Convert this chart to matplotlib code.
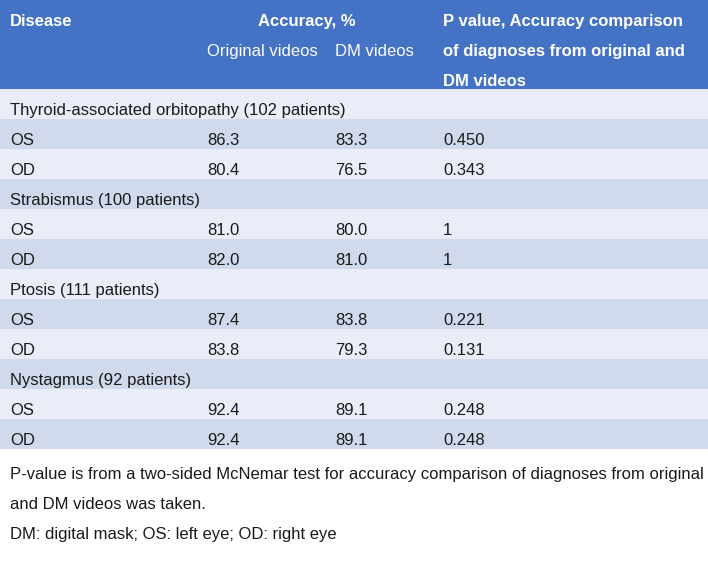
import matplotlib
matplotlib.use("Agg")
import matplotlib.pyplot as plt
from matplotlib.patches import Rectangle

plt.rcParams['font.family'] = ['Liberation Sans', 'DejaVu Sans']

# ---- data ----
diseases = ["Thyroid-associated orbitopathy (102 patients)",
            "Strabismus (100 patients)",
            "Ptosis (111 patients)",
            "Nystagmus (92 patients)"]
eyes = ["OS", "OD"]
original_acc = [["86.3", "80.4"], ["81.0", "82.0"], ["87.4", "83.8"], ["92.4", "92.4"]]
dm_acc = [["83.3", "76.5"], ["80.0", "81.0"], ["83.8", "79.3"], ["89.1", "89.1"]]
p_values = [["0.450", "0.343"], ["1", "1"], ["0.221", "0.131"], ["0.248", "0.248"]]

header_col0 = "Disease"
header_acc = "Accuracy, %"
header_sub = ["Original videos", "DM videos"]
header_p = ["P value, Accuracy comparison", "of diagnoses from original and", "DM videos"]
footnotes = ["P-value is from a two-sided McNemar test for accuracy comparison of diagnoses from original",
             "and DM videos was taken.",
             "DM: digital mask; OS: left eye; OD: right eye"]

# ---- layout ----
W, H = 708, 561
fig = plt.figure(figsize=(W / 100, H / 100), dpi=100)
ax = fig.add_axes([0, 0, 1, 1])
ax.set_xlim(0, W)
ax.set_ylim(H, 0)
ax.axis('off')

header_color = "#4472c4"
light = "#eaedf7"
dark = "#d0daec"
txt = "#1a1a1a"
fs = 12.0

x0, x1, x2, x3 = 10, 207, 335, 443
header_h = 89
row_h = 30

ax.add_patch(Rectangle((0, 0), W, header_h, color=header_color, lw=0))
ax.text(x0, 26, header_col0, color="white", fontsize=fs, fontweight="bold", va="baseline")
ax.text(306.5, 26, header_acc, color="white", fontsize=fs, fontweight="bold", va="baseline", ha="center")
ax.text(x1, 56, header_sub[0], color="white", fontsize=fs, va="baseline")
ax.text(x2, 56, header_sub[1], color="white", fontsize=fs, va="baseline")
for i, line in enumerate(header_p):
    ax.text(x3, 26 + 30 * i, line, color="white", fontsize=fs, fontweight="bold", va="baseline")

# body rows
rows = []
for g, d in enumerate(diseases):
    rows.append((d, None, None, None))
    for e, eye in enumerate(eyes):
        rows.append((eye, original_acc[g][e], dm_acc[g][e], p_values[g][e]))

for r, (label, a, b, p) in enumerate(rows):
    top = header_h + r * row_h
    ax.add_patch(Rectangle((0, top), W, row_h, color=(light if r % 2 == 0 else dark), lw=0))
    yb = top + 26
    ax.text(x0, yb, label, color=txt, fontsize=fs, va="baseline")
    if a is not None:
        ax.text(x1, yb, a, color=txt, fontsize=fs, va="baseline")
        ax.text(x2, yb, b, color=txt, fontsize=fs, va="baseline")
        ax.text(x3, yb, p, color=txt, fontsize=fs, va="baseline")

foot_baselines = [479, 509, 538.5]
for yb, line in zip(foot_baselines, footnotes):
    ax.text(x0, yb, line, color=txt, fontsize=fs, va="baseline")

fig.savefig("out.png", dpi=100)
